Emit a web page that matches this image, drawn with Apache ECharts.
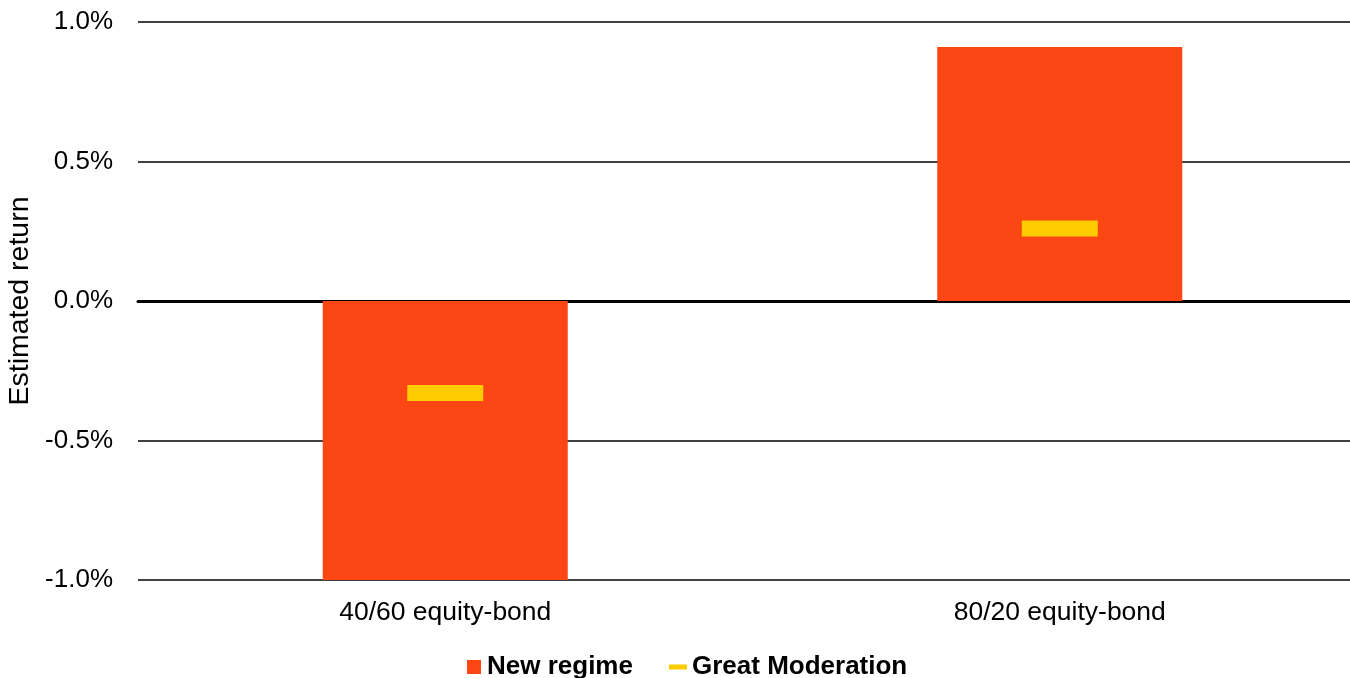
<!DOCTYPE html>
<html>
<head>
<meta charset="utf-8">
<script src="https://cdn.jsdelivr.net/npm/echarts@6/dist/echarts.min.js"></script>
<style>
  html, body { margin: 0; padding: 0; background: #fff; }
  #chart { width: 1350px; height: 678px; }
</style>
</head>
<body>
<div id="chart"></div>
<script>
// Portfolio mixes on the category axis
const categories = ['40/60 equity-bond', '80/20 equity-bond'];
// Estimated return (%) under the new regime
const newRegime = [-1.0, 0.91];
// Estimated return (%) during the Great Moderation
const greatModeration = [-0.33, 0.26];
// Value axis ticks (%)
const yTicks = [-1.0, -0.5, 0.0, 0.5, 1.0];

const FONT = 'Liberation Sans, Arial, sans-serif';
const chart = echarts.init(document.getElementById('chart'));

chart.setOption({
  animation: false,
  // the plot runs a little past the right edge of the canvas
  grid: { left: 138, width: 1229, top: 22, bottom: 98, containLabel: false, outerBoundsMode: 'none' },
  legend: [
    {
      data: ['New regime'],
      left: 467, top: 654, padding: 0,
      icon: 'rect', itemWidth: 14, itemHeight: 14, itemGap: 6,
      textStyle: { fontFamily: FONT, fontSize: 26, fontWeight: 'bold', color: '#000', padding: [0, 0, 0, 1] }
    },
    {
      data: ['Great Moderation'],
      left: 669, top: 654, padding: 0,
      icon: 'rect', itemWidth: 18, itemHeight: 5, itemGap: 6,
      textStyle: { fontFamily: FONT, fontSize: 26, fontWeight: 'bold', color: '#000', padding: [0, 0, 0, 0] }
    }
  ],
  xAxis: {
    type: 'category',
    data: categories,
    axisTick: { show: false },
    axisLine: { onZero: true, lineStyle: { color: '#000', width: 3 } },
    axisLabel: { fontFamily: FONT, fontSize: 26.5, color: '#000', margin: 19 },
    position: 'bottom'
  },
  yAxis: {
    type: 'value',
    min: yTicks[0], max: yTicks[yTicks.length - 1], interval: 0.5,
    name: 'Estimated return',
    nameLocation: 'middle',
    nameGap: 100,
    nameTextStyle: { fontFamily: FONT, fontSize: 28.5, color: '#000' },
    axisLine: { show: false },
    axisTick: { show: false },
    splitLine: { lineStyle: { color: '#000', width: 1.5 } },
    axisLabel: {
      fontFamily: FONT, fontSize: 26, color: '#000', margin: 25,
      formatter: v => v.toFixed(1) + '%'
    }
  },
  series: [
    {
      name: 'New regime',
      type: 'bar',
      data: newRegime,
      barWidth: 245,
      itemStyle: { color: '#FC4714' },
      z: 2
    },
    {
      name: 'Great Moderation',
      type: 'scatter',
      data: greatModeration,
      symbol: 'rect',
      symbolSize: [76, 16],
      itemStyle: { color: '#FFCC00', opacity: 1 },
      z: 3
    }
  ]
});
</script>
</body>
</html>
